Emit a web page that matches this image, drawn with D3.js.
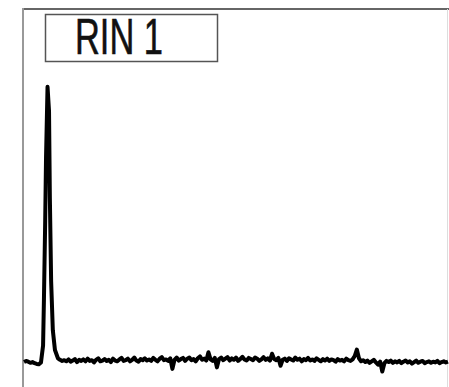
<!DOCTYPE html>
<html>
<head>
<meta charset="utf-8">
<script src="https://cdn.jsdelivr.net/npm/d3@7"></script>
<style>
  html, body { margin: 0; padding: 0; background: #fff; }
  svg { display: block; }
</style>
</head>
<body>
<script>
// label shown in the box
var label = "RIN 1";

// peak region of the trace (x in run units, y in signal units)
var peakX = [0, 0.5, 1, 1.5, 2, 2.5, 3, 3.5, 4.0, 4.5, 4.7, 5.0, 5.2, 5.55, 5.9, 6.1, 6.4, 6.8, 7.3, 8.0, 8.5];
var peakY = [6.6, 6.9, 6.7, 6.4, 6.6, 6.3, 6.1, 6.0, 6.5, 11, 23, 44, 61, 79.4, 73, 50, 28, 15, 9.8, 7.6, 7.2];

// baseline after the peak, sampled every 0.5 units from 9.0
var baseStart = 9.0, baseStep = 0.5;
var baseY = [
  6.9,7.1,6.8,7.3,6.7,7.0,7.4,6.6,7.2,6.9,
  7.3,6.8,7.5,6.9,7.1,6.5,7.2,7.6,6.8,7.0,
  7.4,6.9,7.2,6.6,7.5,7.0,6.8,7.3,7.7,6.9,
  7.1,7.5,6.8,7.2,7.8,7.0,6.7,7.4,7.1,7.6,
  7.0,7.3,6.9,7.7,7.2,6.8,7.5,7.9,7.1,7.3,
  6.9,7.6,4.8,7.2,7.8,7.0,7.4,7.7,6.9,7.5,
  7.8,7.1,7.4,6.8,7.6,8.1,7.2,7.5,7.0,9.2,
  7.3,6.9,7.7,5.2,7.4,7.8,7.1,7.5,7.9,7.0,
  7.6,7.2,7.8,6.9,7.4,8.0,7.3,7.0,7.7,7.4,
  7.1,7.8,7.5,6.9,7.3,7.9,7.2,7.6,7.0,8.8,
  7.4,7.1,7.7,5.6,7.2,7.5,6.9,7.6,7.3,7.0,
  7.8,7.2,7.5,6.8,7.4,7.1,7.7,7.0,7.3,6.9,
  7.6,7.2,6.8,7.4,7.0,7.5,6.9,7.3,7.1,6.7,
  7.4,7.0,7.2,6.8,7.5,7.1,6.9,7.3,8.2,9.9,
  7.6,6.8,7.1,6.6,7.0,6.4,6.8,7.2,6.5,5.9,
  6.7,4.1,6.3,6.9,6.6,7.0,6.4,6.8,6.5,6.9,
  6.3,6.7,7.0,6.5,6.8,6.2,6.6,7.0,6.4,6.7,
  6.9,6.3,6.6,6.8,6.4,6.7,6.5,6.9,6.3,6.6,
  6.8,6.5,6.7
];

var trace = peakX.map(function(x, i) { return [x, peakY[i]]; })
  .concat(baseY.map(function(v, i) { return [baseStart + i * baseStep, v]; }));

var width = 449, height = 387;

var svg = d3.select("body").append("svg")
    .attr("width", width).attr("height", height);

var x = d3.scaleLinear().domain([0, 100]).range([24, 448]),
    y = d3.scaleLinear().domain([0, 100]).range([387, 9]);

// outer frame: dark top, grey left, faint right
svg.append("line")
    .attr("x1", 22).attr("x2", 449).attr("y1", 9).attr("y2", 9)
    .attr("stroke", "#666").attr("stroke-width", 2);
svg.append("line")
    .attr("x1", 23).attr("x2", 23).attr("y1", 8).attr("y2", height)
    .attr("stroke", "#999").attr("stroke-width", 2);
svg.append("line")
    .attr("x1", 447.5).attr("x2", 447.5).attr("y1", 9).attr("y2", height)
    .attr("stroke", "#ddd").attr("stroke-width", 1);

// trace
svg.append("path")
    .datum(trace)
    .attr("fill", "none")
    .attr("stroke", "#000")
    .attr("stroke-width", 4)
    .attr("stroke-linejoin", "round")
    .attr("d", d3.line()
      .x(function(d) { return x(d[0]); })
      .y(function(d) { return y(d[1]); }));

// label box
svg.append("rect")
    .attr("x", 45.5)
    .attr("y", 14.5)
    .attr("width", 172)
    .attr("height", 47)
    .attr("fill", "#fff")
    .attr("stroke", "#555")
    .attr("stroke-width", 1.5);

svg.append("text")
    .attr("x", 75)
    .attr("y", 54)
    .attr("font-family", "Liberation Sans, Arial, sans-serif")
    .attr("font-size", 50)
    .attr("fill", "#111")
    .attr("stroke", "#111")
    .attr("stroke-width", 0.6)
    .attr("textLength", 88)
    .attr("lengthAdjust", "spacingAndGlyphs")
    .text(label);
</script>
</body>
</html>
